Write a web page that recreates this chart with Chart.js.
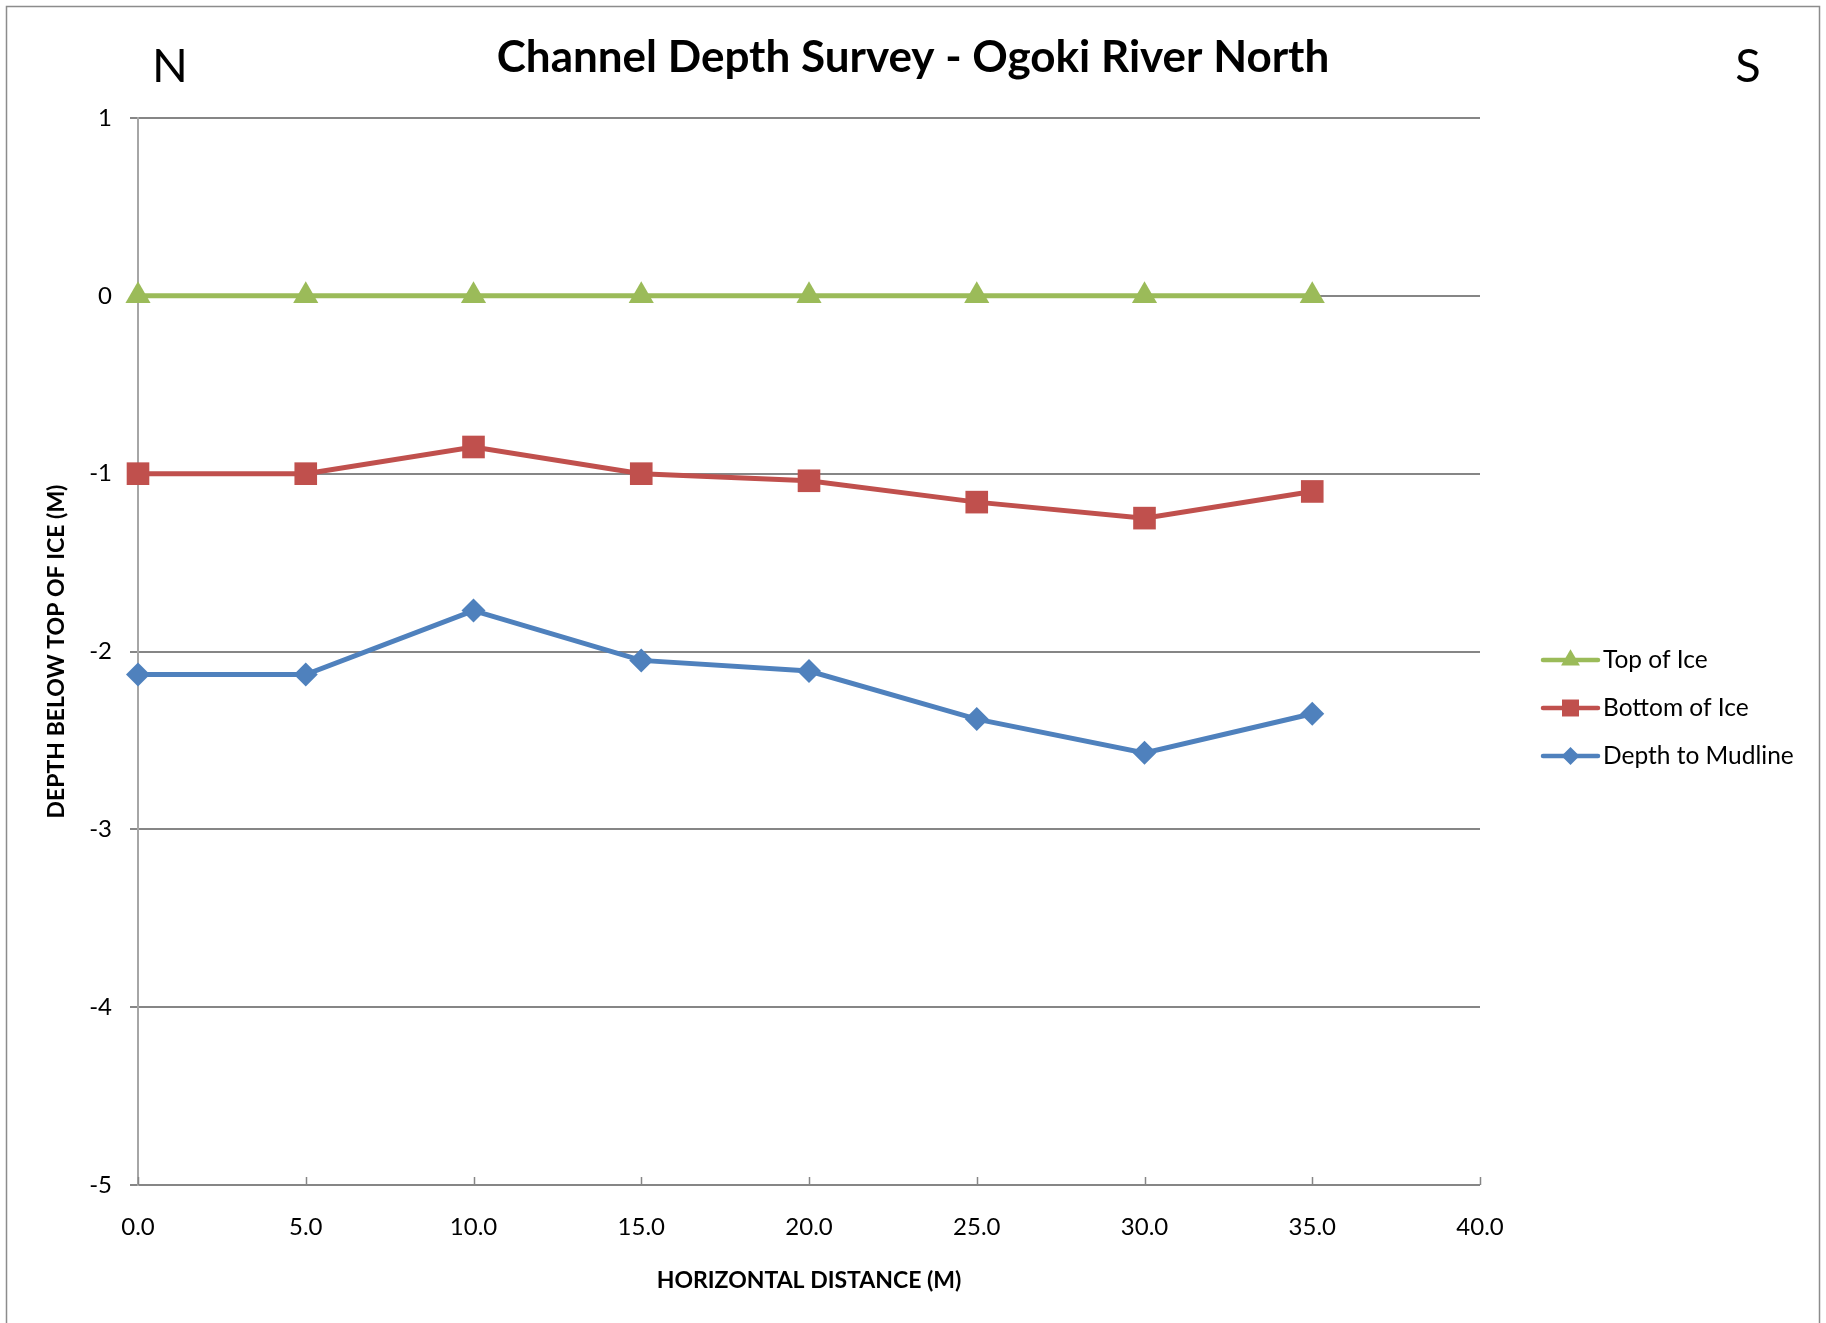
<!DOCTYPE html>
<html>
<head>
<meta charset="utf-8">
<script src="https://cdn.jsdelivr.net/npm/chart.js@4.4.1/dist/chart.umd.min.js"></script>
<style>
  html, body { margin: 0; padding: 0; background: #fff; }
</style>
</head>
<body>
<canvas id="chart" width="1826" height="1323"></canvas>
<script>
// survey data (metres)
const distance    = [0, 5, 10, 15, 20, 25, 30, 35];
const topOfIce    = [0, 0, 0, 0, 0, 0, 0, 0];
const bottomOfIce = [-1.00, -1.00, -0.85, -1.00, -1.04, -1.16, -1.25, -1.10];
const mudline     = [-2.13, -2.13, -1.77, -2.05, -2.11, -2.38, -2.57, -2.35];

const seriesNames = ['Top of Ice', 'Bottom of Ice', 'Depth to Mudline'];
const xTickValues = [0, 5, 10, 15, 20, 25, 30, 35, 40];
const yTickValues = [1, 0, -1, -2, -3, -4, -5];

const colors  = ['#9BBB59', '#C0504D', '#4F81BD'];
const markers = ['triangle', 'rect', 'rectRot'];
const radii   = [14.5, 16, 12];
const FONT = 'Lato';

function pts(ys) { return distance.map((x, i) => ({x: x, y: ys[i]})); }

function drawMarker(ctx, style, x, y, r) {
  ctx.beginPath();
  if (style === 'triangle') {
    ctx.moveTo(x, y - r);
    ctx.lineTo(x + r * 0.866, y + r * 0.5);
    ctx.lineTo(x - r * 0.866, y + r * 0.5);
  } else if (style === 'rect') {
    const s = r * Math.SQRT1_2;
    ctx.rect(x - s, y - s, 2 * s, 2 * s);
  } else {
    ctx.moveTo(x - r, y); ctx.lineTo(x, y - r);
    ctx.lineTo(x + r, y); ctx.lineTo(x, y + r);
  }
  ctx.closePath();
  ctx.fill();
}

const frame = {
  id: 'frame',
  beforeDraw(chart) {
    const ctx = chart.ctx;
    ctx.save();
    ctx.fillStyle = '#fff';
    ctx.fillRect(0, 0, chart.width, chart.height);
    ctx.strokeStyle = '#8c8c8c';
    ctx.lineWidth = 1.5;
    ctx.strokeRect(6.5, 6.5, chart.width - 13, chart.height + 20);
    ctx.fillStyle = '#000';
    ctx.textBaseline = 'alphabetic';
    ctx.textAlign = 'center';
    ctx.font = 'bold 44px ' + FONT;
    ctx.fillText('Channel Depth Survey - Ogoki River North', chart.width / 2, 72);
    ctx.font = '47px ' + FONT;
    ctx.textAlign = 'left';
    ctx.fillText('N', 152, 82);
    ctx.textAlign = 'center';
    ctx.fillText('S', 1748, 82);
    ctx.restore();
  },
  afterDraw(chart) {
    const ctx = chart.ctx, xs = chart.scales.x, area = chart.chartArea;
    ctx.save();
    // inward tick marks on the horizontal axis
    ctx.strokeStyle = '#868686';
    ctx.lineWidth = 1.5;
    xs.ticks.forEach(t => {
      const px = Math.round(xs.getPixelForValue(t.value)) + 0.5;
      ctx.beginPath();
      ctx.moveTo(px, area.bottom);
      ctx.lineTo(px, area.bottom - 8);
      ctx.stroke();
    });
    // legend
    const lx = 1543, ly = 660, gap = 48;
    seriesNames.forEach((name, i) => {
      const y = ly + i * gap;
      ctx.strokeStyle = colors[i];
      ctx.lineWidth = 4.5;
      ctx.lineCap = 'round';
      ctx.beginPath();
      ctx.moveTo(lx, y);
      ctx.lineTo(lx + 55, y);
      ctx.stroke();
      ctx.fillStyle = colors[i];
      drawMarker(ctx, markers[i], lx + 27.5, y, radii[i] * 0.75);
      ctx.fillStyle = '#000';
      ctx.font = '24.5px ' + FONT;
      ctx.textAlign = 'left';
      ctx.textBaseline = 'middle';
      ctx.fillText(name, lx + 60, y);
    });
    ctx.restore();
  }
};

const series = [topOfIce, bottomOfIce, mudline];

new Chart(document.getElementById('chart'), {
  type: 'line',
  data: {
    datasets: series.map((ys, i) => ({
      label: seriesNames[i],
      data: pts(ys),
      borderColor: colors[i],
      backgroundColor: colors[i],
      borderWidth: 5,
      pointStyle: markers[i],
      pointRadius: radii[i],
      pointHoverRadius: radii[i],
      pointBorderWidth: 0,
      tension: 0,
      clip: false
    }))
  },
  options: {
    responsive: false,
    animation: false,
    events: [],
    layout: { padding: { left: 0, right: 346, top: 118, bottom: 0 } },
    plugins: {
      legend: { display: false },
      tooltip: { enabled: false },
      title: { display: false }
    },
    scales: {
      x: {
        type: 'linear',
        min: 0, max: 40,
        afterBuildTicks: s => { s.ticks = xTickValues.map(v => ({value: v})); },
        afterFit: s => { s.height = 138; },
        grid: { display: false, drawTicks: false },
        border: { display: false },
        ticks: {
          color: '#000',
          font: { family: FONT, size: 24 },
          padding: 28,
          maxRotation: 0,
          callback: v => Number(v).toFixed(1)
        },
        title: {
          display: true,
          text: 'HORIZONTAL DISTANCE (M)',
          color: '#000',
          font: { family: FONT, size: 23, weight: 'bold' },
          padding: { top: 0, bottom: 29 }
        }
      },
      y: {
        min: -5, max: 1,
        afterBuildTicks: s => { s.ticks = yTickValues.map(v => ({value: v})); },
        afterFit: s => { s.width = 138; },
        grid: { color: '#868686', lineWidth: 2, tickLength: 8 },
        border: { color: '#a6a6a6', width: 2 },
        ticks: {
          color: '#000',
          font: { family: FONT, size: 24 },
          padding: 18,
          callback: v => String(v)
        },
        title: {
          display: true,
          text: 'DEPTH BELOW TOP OF ICE (M)',
          color: '#000',
          font: { family: FONT, size: 23, weight: 'bold' },
          padding: { top: 43, bottom: 0 }
        }
      }
    }
  },
  plugins: [frame]
});
</script>
</body>
</html>
